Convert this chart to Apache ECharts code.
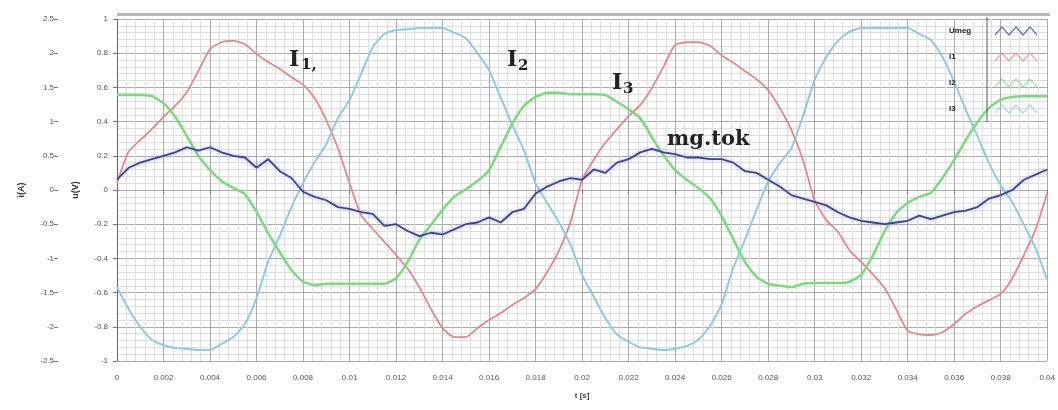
<!DOCTYPE html>
<html><head><meta charset="utf-8">
<script src="https://cdn.jsdelivr.net/npm/echarts/dist/echarts.min.js"></script>
<style>html,body{margin:0;padding:0;background:#fff}#c{width:1058px;height:410px}</style>
</head><body><div id="c"></div>
<script>
// sampling instants, 0 ... 0.04 s every 0.5 ms
const time = Array.from({length: 81}, (_, k) => +(k * 0.0005).toFixed(4));

const seriesNames = ['Umeg', 'I1', 'I2', 'I3'];

// measured voltage u(V)
const umeg = [0.06,0.13,0.16,0.18,0.20,0.22,0.25,0.23,0.25,0.22,
  0.20,0.19,0.13,0.18,0.11,0.07,-0.01,-0.04,-0.06,-0.10,
  -0.11,-0.13,-0.14,-0.21,-0.20,-0.24,-0.27,-0.25,-0.26,-0.23,
  -0.20,-0.19,-0.16,-0.19,-0.13,-0.11,-0.02,0.02,0.05,0.07,
  0.06,0.12,0.10,0.16,0.18,0.22,0.24,0.22,0.21,0.19,
  0.19,0.18,0.18,0.16,0.11,0.10,0.06,0.02,-0.03,-0.05,
  -0.07,-0.09,-0.13,-0.16,-0.18,-0.19,-0.20,-0.19,-0.18,-0.15,
  -0.17,-0.15,-0.13,-0.12,-0.10,-0.05,-0.03,0.00,0.06,0.09,
  0.12];

// phase currents i(A)
const i1 = [0.10,0.56,0.73,0.89,1.07,1.23,1.43,1.74,2.06,2.16,
  2.18,2.13,1.99,1.87,1.77,1.65,1.54,1.34,1.02,0.61,
  0.10,-0.37,-0.57,-0.76,-0.95,-1.15,-1.42,-1.74,-2.02,-2.15,
  -2.15,-2.02,-1.90,-1.80,-1.68,-1.58,-1.45,-1.20,-0.89,-0.47,
  0.15,0.44,0.69,0.89,1.08,1.24,1.49,1.80,2.12,2.16,
  2.16,2.11,1.97,1.86,1.74,1.62,1.46,1.20,0.88,0.44,
  -0.15,-0.44,-0.61,-0.88,-1.05,-1.23,-1.43,-1.74,-2.06,-2.11,
  -2.12,-2.08,-1.96,-1.81,-1.70,-1.61,-1.52,-1.29,-0.95,-0.58,
  -0.04];

const i2 = [1.39,1.39,1.39,1.37,1.27,1.07,0.79,0.50,0.29,0.13,
  0.03,-0.06,-0.32,-0.63,-0.91,-1.17,-1.34,-1.39,-1.37,-1.37,
  -1.37,-1.37,-1.37,-1.37,-1.29,-1.05,-0.73,-0.51,-0.29,-0.10,
  0.01,0.13,0.29,0.63,0.97,1.23,1.36,1.42,1.42,1.40,
  1.40,1.40,1.39,1.29,1.18,1.05,0.77,0.51,0.29,0.15,
  0.03,-0.12,-0.38,-0.72,-1.05,-1.27,-1.37,-1.40,-1.42,-1.37,
  -1.36,-1.36,-1.36,-1.34,-1.24,-0.96,-0.61,-0.34,-0.19,-0.10,
  -0.04,0.18,0.44,0.73,0.99,1.20,1.32,1.36,1.37,1.37,
  1.37];

const i3 = [-1.42,-1.74,-2.00,-2.19,-2.27,-2.31,-2.32,-2.34,-2.34,-2.25,
  -2.15,-1.96,-1.58,-1.05,-0.67,-0.25,0.10,0.41,0.67,1.05,
  1.32,1.70,2.09,2.28,2.34,2.35,2.37,2.37,2.37,2.30,
  2.22,2.00,1.75,1.35,0.95,0.58,0.10,-0.19,-0.47,-0.80,
  -1.24,-1.56,-1.87,-2.11,-2.22,-2.30,-2.32,-2.34,-2.32,-2.28,
  -2.19,-1.99,-1.67,-1.14,-0.73,-0.29,0.12,0.39,0.61,1.08,
  1.61,1.94,2.18,2.31,2.37,2.37,2.37,2.37,2.37,2.28,
  2.19,1.94,1.58,1.17,0.79,0.39,0.07,-0.18,-0.51,-0.85,
  -1.32];

const pairs = arr => arr.map((v, k) => [time[k], v]);

const chart = echarts.init(document.getElementById('c'), null, {renderer: 'canvas'});
const labelFont = {fontSize: 8, color: '#555', fontFamily: 'Liberation Sans'};
const zig = 'path://M0,9 L7,1 L14,9 L21,1 L28,9 L35,1 L42,9 L42,11 L35,3 L28,11 L21,3 L14,11 L7,3 L0,11 Z';
const serif = '"DejaVu Serif"';

chart.setOption({
  animation: false,
  backgroundColor: '#fff',
  grid: {left: 117, right: 9, top: 19, bottom: 49},
  legend: {
    data: seriesNames, orient: 'vertical', left: 944, top: 21,
    align: 'right', itemWidth: 48, itemHeight: 10, itemGap: 16, icon: zig,
    itemStyle: {opacity: 0.75},
    formatter: n => '{a|' + n + '}',
    textStyle: {
      rich: {a: {width: 38, align: 'left', fontSize: 8, fontWeight: 'bold', color: '#222', fontFamily: 'Liberation Sans'}}
    }
  },
  xAxis: {
    type: 'value', min: 0, max: 0.04, interval: 0.002,
    name: 't [s]', nameLocation: 'middle', nameGap: 31,
    nameTextStyle: {fontSize: 8, color: '#444', fontWeight: 'bold', fontFamily: 'Liberation Sans'},
    axisLine: {show: true, lineStyle: {color: '#aaa'}},
    axisTick: {show: true, length: 4, lineStyle: {color: '#777'}},
    axisLabel: Object.assign({margin: 13, formatter: v => v === 0 ? '0' : String(+v.toFixed(3))}, labelFont),
    splitLine: {show: true, lineStyle: {color: '#aaaaaa', width: 1}},
    minorTick: {show: false, splitNumber: 5},
    minorSplitLine: {show: true, lineStyle: {color: '#dedede', width: 1}}
  },
  yAxis: [{
    type: 'value', min: -1, max: 1, interval: 0.2, position: 'left',
    name: 'u(V)', nameLocation: 'middle', nameGap: 37,
    nameTextStyle: {fontSize: 9, color: '#333', fontWeight: 'bold', fontFamily: 'Liberation Sans'},
    axisLine: {show: true, lineStyle: {color: '#666'}},
    axisTick: {show: true, length: 4, lineStyle: {color: '#777'}},
    axisLabel: Object.assign({margin: 9}, labelFont),
    splitLine: {show: true, lineStyle: {color: '#aaaaaa', width: 1}},
    minorTick: {show: false, splitNumber: 5},
    minorSplitLine: {show: true, lineStyle: {color: '#dedede', width: 1}}
  }, {
    type: 'value', min: -2.5, max: 2.5, interval: 0.5, position: 'left', offset: 59,
    name: 'i(A)', nameLocation: 'middle', nameGap: 32,
    nameTextStyle: {fontSize: 9, color: '#333', fontWeight: 'bold', fontFamily: 'Liberation Sans'},
    axisLine: {show: false},
    axisTick: {show: true, length: 4, lineStyle: {color: '#777'}},
    axisLabel: Object.assign({margin: 4}, labelFont),
    splitLine: {show: false}
  }],
  series: [
    {name: 'Umeg', type: 'line', yAxisIndex: 0, data: pairs(umeg), showSymbol: false, z: 6,
     itemStyle: {color: '#3a4590'},
     lineStyle: {color: '#3a4590', width: 1.8, shadowColor: 'rgba(150,140,235,0.7)', shadowBlur: 4}},
    {name: 'I1', type: 'line', yAxisIndex: 1, data: pairs(i1), showSymbol: false, smooth: 0.2, z: 3,
     itemStyle: {color: '#e58787'}, lineStyle: {color: '#e58787', width: 1.8}},
    {name: 'I2', type: 'line', yAxisIndex: 1, data: pairs(i2), showSymbol: false, smooth: 0.2, z: 4,
     itemStyle: {color: '#7ddb7d'}, lineStyle: {color: '#7ddb7d', width: 2.6}},
    {name: 'I3', type: 'line', yAxisIndex: 1, data: pairs(i3), showSymbol: false, smooth: 0.2, z: 3,
     itemStyle: {color: '#8ec9e8'}, lineStyle: {color: '#8ec9e8', width: 2}}
  ],
  graphic: [
    {type: 'rect', shape: {x: 117, y: 13, width: 933, height: 3}, style: {fill: '#b8b8b8'}, z: 10},
    {type: 'line', shape: {x1: 987, y1: 17, x2: 987, y2: 122}, style: {stroke: '#555', lineWidth: 1}, z: 10},
    {type: 'text', x: 289, y: 60, style: {text: 'I', font: 'bold 22px ' + serif, fill: '#222', verticalAlign: 'middle'}, z: 10},
    {type: 'text', x: 301, y: 65, style: {text: '1,', font: 'bold 15px ' + serif, fill: '#222', verticalAlign: 'middle'}, z: 10},
    {type: 'text', x: 507, y: 60, style: {text: 'I', font: 'bold 22px ' + serif, fill: '#222', verticalAlign: 'middle'}, z: 10},
    {type: 'text', x: 518, y: 66, style: {text: '2', font: 'bold 15px ' + serif, fill: '#222', verticalAlign: 'middle'}, z: 10},
    {type: 'text', x: 612, y: 83, style: {text: 'I', font: 'bold 22px ' + serif, fill: '#222', verticalAlign: 'middle'}, z: 10},
    {type: 'text', x: 623, y: 89, style: {text: '3', font: 'bold 15px ' + serif, fill: '#222', verticalAlign: 'middle'}, z: 10},
    {type: 'text', x: 667, y: 140, style: {text: 'mg.tok', font: 'bold 21px ' + serif, fill: '#222', verticalAlign: 'middle'}, z: 10}
  ]
});
</script></body></html>
